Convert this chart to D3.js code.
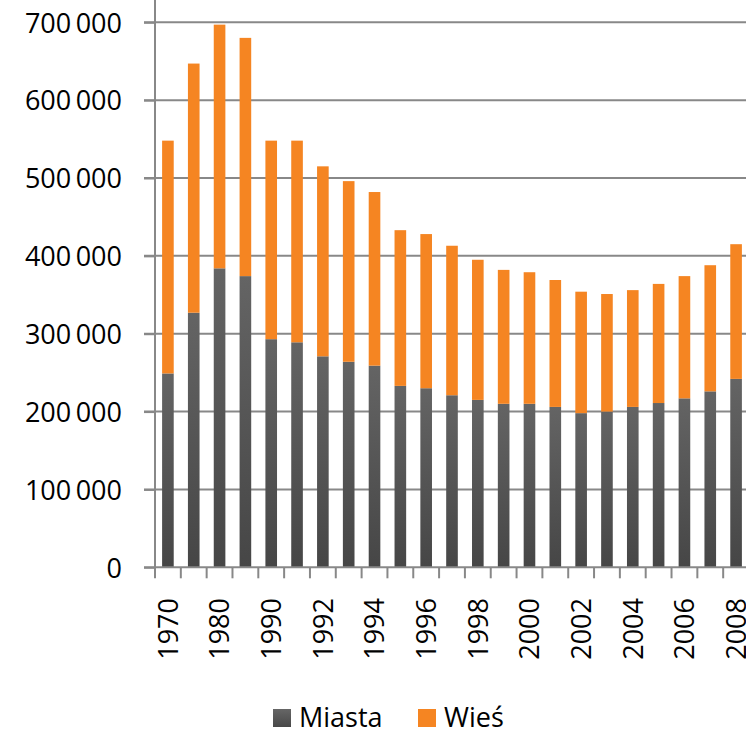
<!DOCTYPE html>
<html>
<head>
<meta charset="utf-8">
<script src="https://cdn.jsdelivr.net/npm/d3@7"></script>
<style>
  html, body { margin: 0; padding: 0; background: #fff; }
  svg { display: block; }
  text { font-family: "Open Sans", "Liberation Sans", sans-serif; fill: #000; }
</style>
</head>
<body>
<svg id="chart" width="746" height="731"></svg>
<script>
const years = ["1970","1975","1980","1985","1990","1991","1992","1993","1994","1995","1996","1997","1998","1999","2000","2001","2002","2003","2004","2005","2006","2007","2008"];
const tickLabels = ["1970","1980","1990","1992","1994","1996","1998","2000","2002","2004","2006","2008"];
const miasta = [249000,327000,384000,374000,293000,289000,271000,264000,259000,233000,230000,221000,215000,210000,210000,206000,198000,200000,206000,211000,217000,226000,242000];
const wies   = [299000,320000,313000,306000,255000,259000,244000,232000,223000,200000,198000,192000,180000,172000,169000,163000,156000,151000,150000,153000,157000,162000,173000];
const yTicks = [0,100000,200000,300000,400000,500000,600000,700000];
const seriesNames = ["Miasta","Wieś"];
const seriesColors = ["url(#grayGrad)","#F58522"];

const svg = d3.select("#chart");
const defs = svg.append("defs");
const g1 = defs.append("linearGradient").attr("id","grayGrad")
  .attr("x1",0).attr("y1",0).attr("x2",0).attr("y2",1);
g1.append("stop").attr("offset","0%").attr("stop-color","#646464");
g1.append("stop").attr("offset","100%").attr("stop-color","#464646");
const g2 = defs.append("linearGradient").attr("id","grayGradLeg")
  .attr("x1",0).attr("y1",0).attr("x2",0).attr("y2",1);
g2.append("stop").attr("offset","0%").attr("stop-color","#666666");
g2.append("stop").attr("offset","100%").attr("stop-color","#484848");

const x0 = 155, x1 = 749, yBottom = 567.3, yTop = 22.3;
const x = d3.scaleBand().domain(years).range([x0, x1]).paddingInner(0.55).paddingOuter(0.275);
const y = d3.scaleLinear().domain([0, 700000]).range([yBottom, yTop]);

const data = years.map((yr, i) => ({year: yr, Miasta: miasta[i], "Wieś": wies[i]}));
const stacked = d3.stack().keys(seriesNames)(data);

// gridlines
const grid = svg.append("g");
grid.selectAll("line").data(yTicks.filter(d => d > 0)).join("line")
  .attr("x1", x0 - 11).attr("x2", 746)
  .attr("y1", d => y(d)).attr("y2", d => y(d))
  .attr("stroke", "#888").attr("stroke-width", 2);

// bars
svg.append("g").selectAll("g").data(stacked).join("g")
  .attr("fill", (d, i) => seriesColors[i])
  .selectAll("rect").data(d => d).join("rect")
  .attr("x", d => x(d.data.year))
  .attr("width", x.bandwidth())
  .attr("y", d => y(d[1]))
  .attr("height", d => y(d[0]) - y(d[1]));

// y axis
const yAxis = d3.axisLeft(y).tickValues(yTicks).tickSize(11).tickPadding(22)
  .tickFormat(d => d3.format(",")(d).replace(/,/g, "\u2009"));
const ya = svg.append("g").attr("transform", `translate(${x0},0)`).call(yAxis);
ya.select(".domain").attr("stroke", "#888").attr("stroke-width", 2).attr("d", `M0,${yBottom}V0`);
ya.selectAll(".tick line").attr("stroke", "#888").attr("stroke-width", 2);
ya.selectAll(".tick text").attr("font-size", 27).attr("font-family", "'Open Sans', sans-serif").attr("fill", "#000").attr("dy", "0.36em");

// x axis baseline
svg.append("line").attr("x1", x0 - 11).attr("x2", 746).attr("y1", yBottom).attr("y2", yBottom)
  .attr("stroke", "#888").attr("stroke-width", 2);

// x tick marks at band boundaries
const step = x.step();
const bounds = years.map((yr) => x(yr) - (step - x.bandwidth()) / 2);
svg.append("g").selectAll("line").data(bounds).join("line")
  .attr("x1", d => d).attr("x2", d => d)
  .attr("y1", yBottom).attr("y2", yBottom + 11)
  .attr("stroke", "#888").attr("stroke-width", 2);

// x labels
svg.append("g").selectAll("text").data(tickLabels).join("text")
  .attr("transform", d => `translate(${x(d) + x.bandwidth() / 2},598) rotate(-90)`)
  .attr("text-anchor", "end").attr("dy", "0.36em")
  .attr("font-size", 27)
  .text(d => d);

// legend
const legend = [
  {name: "Miasta", fill: "url(#grayGradLeg)", x: 273},
  {name: "Wieś", fill: "#F58522", x: 418}
];
const lg = svg.append("g").selectAll("g").data(legend).join("g");
lg.append("rect").attr("x", d => d.x).attr("y", 709).attr("width", 18).attr("height", 18).attr("fill", d => d.fill);
lg.append("text").attr("x", d => d.x + 26).attr("y", 727).attr("font-size", 27).text(d => d.name);
</script>
</body>
</html>
